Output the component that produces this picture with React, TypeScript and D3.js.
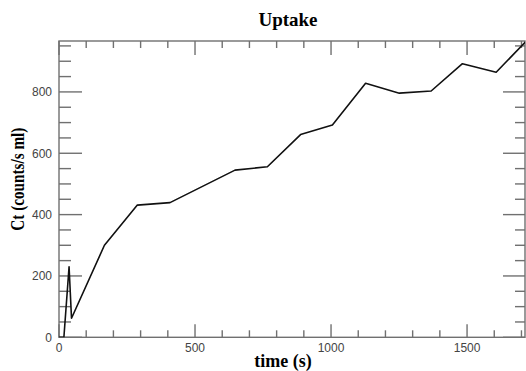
import * as d3 from 'd3';

const times = [0, 18, 37, 46, 167, 288, 408, 647, 766, 888, 1005, 1127, 1251, 1368, 1483, 1607, 1720];
const uptake = [0, 0, 230, 62, 300, 431, 439, 545, 556, 661, 692, 828, 796, 803, 892, 864, 968];

const xMajor = [0, 500, 1000, 1500];
const xMinor = d3.range(100, 1800, 100).filter(v => v % 500 !== 0);
const yMajor = [0, 200, 400, 600, 800];
const yMinor = d3.range(50, 1000, 50).filter(v => v % 200 !== 0);

const W = 526;
const H = 371;
const left = 59, right = 525, top = 41, bottom = 337.3;

export default function App() {
  const x = d3.scaleLinear().domain([0, 1713]).range([left, right]);
  const y = d3.scaleLinear().domain([0, 966]).range([bottom, top]);
  const pts = times.map((t, i) => [t, uptake[i]] as [number, number]);
  const path = d3.line<[number, number]>().x(d => x(d[0])).y(d => y(d[1]))(pts) || '';
  const axisCol = '#707070';
  const sans = 'Liberation Sans, Arial, sans-serif';
  const serif = 'Liberation Serif, Times New Roman, serif';

  return (
    <div style={{ position: 'absolute', left: 0, top: 0 }}>
      <svg width={W} height={H} style={{ display: 'block', background: '#fff' }}>
        <defs>
          <clipPath id="plot">
            <rect x={left} y={top} width={right - left} height={bottom - top} />
          </clipPath>
        </defs>
        <text x={288} y={26} textAnchor="middle" fontFamily={serif} fontWeight="bold" fontSize={19}>Uptake</text>
        <g stroke={axisCol} strokeWidth={1.4}>
          {xMajor.map(v => (
            <g key={'xM' + v}>
              <line x1={x(v)} x2={x(v)} y1={bottom} y2={bottom - 13} />
              <line x1={x(v)} x2={x(v)} y1={top} y2={top + 14} />
            </g>
          ))}
          {xMinor.map(v => (
            <g key={'xm' + v}>
              <line x1={x(v)} x2={x(v)} y1={bottom} y2={bottom - 7} />
              <line x1={x(v)} x2={x(v)} y1={top} y2={top + 7} />
            </g>
          ))}
          {yMajor.map(v => (
            <g key={'yM' + v}>
              <line x1={left} x2={left + 23} y1={y(v)} y2={y(v)} />
              <line x1={right} x2={right - 22} y1={y(v)} y2={y(v)} />
            </g>
          ))}
          {yMinor.map(v => (
            <g key={'ym' + v}>
              <line x1={left} x2={left + 12} y1={y(v)} y2={y(v)} />
              <line x1={right} x2={right - 10} y1={y(v)} y2={y(v)} />
            </g>
          ))}
          <rect x={left} y={top} width={right - left} height={bottom - top} fill="none" />
        </g>
        <path d={path} fill="none" stroke="#111" strokeWidth={1.6} strokeLinejoin="round" clipPath="url(#plot)" />
        <g fontFamily={sans} fontSize={12} fill="#444">
          {xMajor.map(v => (
            <text key={'xl' + v} x={x(v)} y={352} textAnchor="middle">{v}</text>
          ))}
          {yMajor.map(v => (
            <text key={'yl' + v} x={52} y={y(v) + 4.5} textAnchor="end">{v}</text>
          ))}
        </g>
        <text x={283} y={367} textAnchor="middle" fontFamily={serif} fontWeight="bold" fontSize={18}>time (s)</text>
        <text transform={`translate(24,${(top + bottom) / 2 - 10}) rotate(-90)`} textAnchor="middle"
          fontFamily={serif} fontWeight="bold" fontSize={18} textLength={103} lengthAdjust="spacingAndGlyphs">Ct (counts/s ml)</text>
      </svg>
    </div>
  );
}
